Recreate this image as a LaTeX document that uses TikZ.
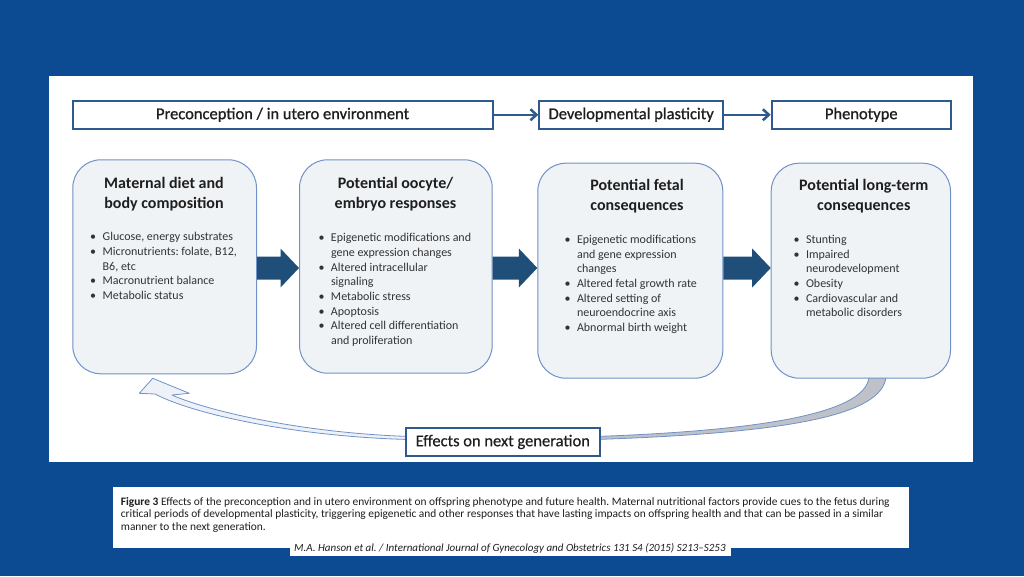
\documentclass[tikz,border=0pt]{standalone}
\usepackage{fontspec}
\setmainfont{Carlito}
\newfontfamily\medfont[FakeBold=0.9]{Carlito}
\newfontfamily\lmedfont[FakeBold=0.5]{Carlito}
\usetikzlibrary{arrows.meta,calc}
\definecolor{bgblue}{HTML}{0C4B92}
\definecolor{arrblue}{HTML}{1F4E79}
\definecolor{topline}{HTML}{2E5A8E}
\definecolor{rline}{HTML}{7092C8}
\definecolor{rfill}{HTML}{F0F3F6}
\definecolor{cfill}{HTML}{EEF2F8}
\definecolor{cgray}{HTML}{BEC1C8}
\definecolor{txt}{HTML}{1E1E1E}
\definecolor{btxt}{HTML}{333333}
\newcommand{\hd}[1]{\parbox[t]{190pt}{\centering\fontsize{16}{20}\selectfont\bfseries #1}}
\newcommand{\bul}[1]{\parbox[t]{200pt}{\raggedright\fontsize{12}{14.7}\selectfont #1}}
\newcommand{\bi}{\makebox[12.5pt][l]{•}}
\newcommand{\bc}{\hspace*{12.5pt}}
\frenchspacing
\tikzset{
  rbox/.style={draw=rline, fill=rfill, rounded corners=28pt, line width=1pt, anchor=north west, inner sep=0},
  topbox/.style={draw=topline, fill=white, line width=1.8pt, anchor=north west, inner sep=0, minimum height=27.7, font=\medfont\fontsize{16.5}{19}\selectfont, text=txt},
  toparr/.style={draw=topline, line width=2.5pt, -{Straight Barb[length=6pt,width=11pt]}},
  bigarr/.style={fill=arrblue},
  hdtext/.style={anchor=base, inner sep=0, text=txt},
  bltext/.style={anchor=base west, inner sep=0, text=btxt},
  curv/.style={draw=rline, line width=0.8pt, line join=round}
}
\begin{document}
\begin{tikzpicture}[x=1pt,y=-1pt]
\fill[bgblue] (0,0) rectangle (1024,576);
\useasboundingbox (0,0) rectangle (1024,576);
\fill[white] (49,75.7) rectangle (973,461.7);

% curved feedback arrow
\path[curv, fill=cgray] (869,377) .. controls (866,410) and (780,430) .. (595,436.5)
  -- (595,439.5) .. controls (790,433) and (882,415) .. (886,377) -- cycle;
\path[curv, fill=cfill] (410,436.5) .. controls (300,433) and (205,410) .. (172,395)
  -- (189.3,393.3) -- (152.7,378.3) -- (139.3,393.3) -- (155,394)
  .. controls (195,415) and (300,437) .. (410,439.5) -- cycle;

% top row
\node[topbox, minimum width=420] (pre) at (71.7,100) {Preconception / in utero environment};
\node[topbox, minimum width=184] (dev) at (538.3,100) {Developmental plasticity};
\node[topbox, minimum width=179.3] (phen) at (770.7,100) {Phenotype};
\draw[toparr] (pre) -- (dev);
\draw[toparr] (dev) -- (phen);

% rounded boxes
\node[rbox, minimum width=183.7, minimum height=214] (b1) at (72.3,159.3) {};
\node[rbox, minimum width=192.7, minimum height=213.4] (b2) at (299,159.3) {};
\node[rbox, minimum width=185, minimum height=215] (b3) at (537.3,162.7) {};
\node[rbox, minimum width=179.3, minimum height=215] (b4) at (770.7,162.7) {};

\node[hdtext] (h1) at (164,188.3) {\hd{Maternal diet and\\body composition}};
\node[hdtext] (h2) at (395.5,188.3) {\hd{Potential oocyte/\\embryo responses}};
\node[hdtext] (h3) at (637,190) {\hd{Potential fetal\\consequences}};
\node[hdtext] (h4) at (863.8,190) {\hd{Potential long-term\\consequences}};

\node[bltext] (l1) at (90,240.7) {\bul{\bi Glucose, energy substrates\\\bi Micronutrients: folate, B12,\\\bc B6, etc\\\bi Macronutrient balance\\\bi Metabolic status}};
\node[bltext] (l2) at (318.3,241.7) {\bul{\bi Epigenetic modifications and\\\bc gene expression changes\\\bi Altered intracellular\\\bc signaling\\\bi Metabolic stress\\\bi Apoptosis\\\bi Altered cell differentiation\\\bc and proliferation}};
\node[bltext] (l3) at (564.3,243.3) {\bul{\bi Epigenetic modifications\\\bc and gene expression\\\bc changes\\\bi Altered fetal growth rate\\\bi Altered setting of\\\bc neuroendocrine axis\\\bi Abnormal birth weight}};
\node[bltext] (l4) at (793.3,243.3) {\bul{\bi Stunting\\\bi Impaired\\\bc neurodevelopment\\\bi Obesity\\\bi Cardiovascular and\\\bc metabolic disorders}};

% big block arrows
\coordinate (ay) at (0,268);
\foreach \a/\b in {b1/b2, b2/b3, b3/b4}{
  \fill[bigarr] ($(\a.east |- ay)+(0,-11.5)$) -- ($(\b.west |- ay)+(-18.5,-11.5)$)
    -- ($(\b.west |- ay)+(-18.5,-19.5)$) -- (\b.west |- ay)
    -- ($(\b.west |- ay)+(-18.5,19.5)$) -- ($(\b.west |- ay)+(-18.5,11.5)$)
    -- ($(\a.east |- ay)+(0,11.5)$) -- cycle;
}

\node[topbox, minimum width=194, line width=1.6pt, font=\lmedfont\fontsize{16.5}{19}\selectfont] (eff) at (405,427.3) {Effects on next generation};

% caption
\fill[white] (113.3,487.3) rectangle (909,547.7);
\fill[white] (290,539) rectangle (731,556);
\node[anchor=base west, inner sep=0, text=txt] (cap) at (120.7,505) {\parbox[t]{800pt}{\fontsize{11.4}{12.7}\selectfont\textbf{Figure 3} Effects of the preconception and in utero environment on offspring phenotype and future health. Maternal nutritional factors provide cues to the fetus during\\critical periods of developmental plasticity, triggering epigenetic and other responses that have lasting impacts on offspring health and that can be passed in a similar\\manner to the next generation.}};
\node[anchor=base west, inner sep=0, text=txt] (cit) at (294,551.5) {\fontsize{11}{12}\selectfont\itshape M.A. Hanson et al. / International Journal of Gynecology and Obstetrics 131 S4 (2015) S213–S253};
\end{tikzpicture}
\end{document}
